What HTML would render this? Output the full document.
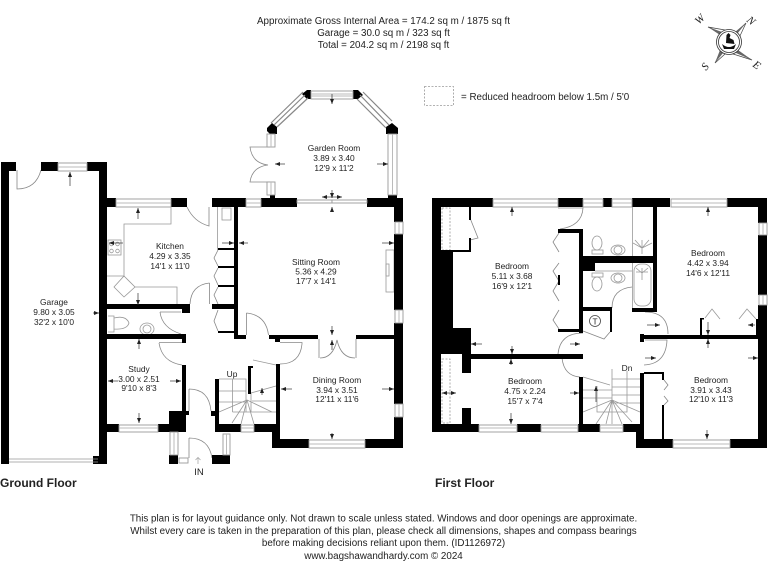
<!DOCTYPE html>
<html><head><meta charset="utf-8"><style>
html,body{margin:0;padding:0;background:#fff;width:768px;height:576px;overflow:hidden}
svg{display:block;filter:blur(.3px)}
text{font-family:"Liberation Sans",Arial,sans-serif;fill:#222}
.l text{font-size:8.4px;text-anchor:middle}
.f text{font-size:9.8px;text-anchor:middle}
.w rect{fill:#fff;stroke:#999;stroke-width:.9}
.w path{stroke:#bbb;stroke-width:1;fill:none}
.t{fill:none;stroke:#999;stroke-width:.8}
.d{fill:none;stroke:#888;stroke-width:.8}
.a{stroke:#333;stroke-width:.7;fill:none;marker-end:url(#m)}
</style></head><body>
<svg width="768" height="576" viewBox="0 0 768 576" xmlns="http://www.w3.org/2000/svg">
<defs><marker id="m" markerWidth="6" markerHeight="4" refX="5" refY="2" orient="auto" markerUnits="userSpaceOnUse"><path d="M0 0L5 2L0 4Z" fill="#222"/></marker></defs>
<rect width="768" height="576" fill="#fff"/>

<g class="f">
<text x="383.500" y="24">Approximate Gross Internal Area = 174.2 sq m / 1875 sq ft</text>
<text x="383.500" y="36">Garage = 30.0 sq m / 323 sq ft</text>
<text x="383.500" y="48">Total = 204.2 sq m / 2198 sq ft</text>
<text x="383.500" y="521.500">This plan is for layout guidance only. Not drawn to scale unless stated. Windows and door openings are approximate.</text>
<text x="383.500" y="534">Whilst every care is taken in the preparation of this plan, please check all dimensions, shapes and compass bearings</text>
<text x="383.500" y="546">before making decisions reliant upon them. (ID1126972)</text>
<text x="383.500" y="559">www.bagshawandhardy.com © 2024</text>
</g>
<rect x="424.500" y="86.500" width="29" height="19" fill="none" stroke="#999" stroke-width=".8" stroke-dasharray="2 1.500"/>
<text x="461" y="100" font-size="9.800">= Reduced headroom below 1.5m / 5'0</text>

<!-- compass -->
<g fill="none" stroke="#444" stroke-width=".7">
<path d="M735 33L746 23L739 38ZM721 33L708 27L725 30ZM721 51L715 63L725 54ZM737 51L752 60L733 54Z" fill="#fff"/>
<path d="M737 34L746 23L735 32ZM722 32L708 27L720 35ZM720 50L715 63L723 53ZM738 50L752 60L736 53Z" fill="#666" stroke="none"/>
</g>
<circle cx="729" cy="42" r="12.500" fill="#fff" stroke="#333" stroke-width=".8"/>
<circle cx="729" cy="42" r="10.500" fill="#fff" stroke="#333" stroke-width=".8"/>
<path d="M722 44q7 6 14 0l-2 5h-10zM726 43l.5-8 2-2 2 2-1 3 4 2 1 4z" fill="#111"/>
<g fill="#444">
<text transform="translate(746,21) rotate(40)" style="font-family:'Liberation Serif',serif;font-size:11px;font-style:italic">N</text>
<text transform="translate(699,25) rotate(-45)" style="font-family:'Liberation Serif',serif;font-size:11px;font-style:italic">W</text>
<text transform="translate(706,71) rotate(-50)" style="font-family:'Liberation Serif',serif;font-size:11px;font-style:italic">S</text>
<text transform="translate(752,66) rotate(35)" style="font-family:'Liberation Serif',serif;font-size:11px;font-style:italic">E</text>
</g>

<!-- fixtures / thin lines -->
<g class="t">
<path d="M171 207V224H124V277M107 276H124M135 287H177V304"/>
<rect x="108" y="240" width="13" height="15"/>
<circle cx="111.500" cy="244" r="1.800"/><circle cx="117.500" cy="244" r="1.800"/><circle cx="111.500" cy="251" r="1.800"/><circle cx="117.500" cy="251" r="1.800"/>
<path d="M124 276L135 287L124 297L114 287Z"/>
<rect x="222" y="208" width="9" height="12"/>
<path d="M217.500 207V250"/>
<path d="M108 316H114V332H108M114 318q12-3 15 5q-2 7-15 6"/>
<ellipse cx="147" cy="329" rx="7" ry="6"/><circle cx="147" cy="329" r="4"/>
<rect x="386" y="250" width="8" height="42"/><rect x="386" y="264" width="3" height="12"/>
<!-- stairs ground -->
<path d="M219 379H246V412M232.500 379V412M219 391H246M219 402H246M232.500 412H262M251 393L276 386M252 401H276M251 393V412M252 412H276M247 400L219 412M247 400L232 423M247 400L241 424M247 400L254 424M247 400L272 412"/>
<path d="M253 360L276 365"/>
<!-- stairs first -->
<path d="M612 369V400M627 371V412H612M612 379H640M612 387H640M612 395H640M612 403H640M583 377L610 385M583 390H612M583 398H612M597 386V412H612M612 400L583 412M612 400L596 424M612 400L606 424M612 400V424M612 400L622 424M612 400L632 422M612 400L640 412"/>
<!-- bath & bathrooms first -->
<path d="M632.500 207V308"/>
<rect x="634" y="264" width="17" height="42" rx="7"/>
<path d="M642 240V254M642 248L635 240M642 248L649 240M642 248L633 243M642 248L652 243M642 268V280M636 272L648 272M636 268L642 273L648 268"/>
<ellipse cx="597" cy="243" rx="5" ry="7"/><rect x="592" y="250" width="11" height="4"/>
<ellipse cx="618" cy="250" rx="7" ry="5"/><circle cx="618" cy="250" r="4"/>
<rect x="592" y="273" width="11" height="4"/><ellipse cx="597" cy="284" rx="5" ry="7"/>
<ellipse cx="618" cy="278" rx="7" ry="5"/><circle cx="618" cy="278" r="4"/>
<path d="M595 271H632"/>
<!-- headroom dashed -->
<rect x="442" y="208" width="8" height="42" stroke-dasharray="2 1.500"/>
<rect x="442" y="359" width="8" height="64" stroke-dasharray="2 1.500"/>
<path d="M705 318L712 309L720 319M739 319L747 309L756 319"/>
</g>

<!-- doors -->
<g class="d">
<path d="M17 170V189Q36 189 41 170"/>
<path d="M187 207Q194 222 209 226V207"/>
<path d="M209.500 283V304M209.500 283Q191 285 190 304"/>
<path d="M160 312H181M160 312Q162 328 181 334"/>
<path d="M159 342.500H182M159 343Q162 362 182 365"/>
<path d="M189 389V411M189 389Q209 389 211 411"/>
<path d="M189 438V458M189 438Q209 438 212 458"/>
<path d="M246.500 313V335M246.500 313Q266 315 268.500 335"/>
<path d="M280 342.500H302V344Q300 364 280 364"/>
<path d="M319 339V358M320 358Q333 358 337 340Q341 358 355 358M356 339V358"/>
<!-- garden room doors -->
<path d="M270 147H250Q252 163 268 165Q252 167 250 182H270"/>
<!-- hall cupboards -->
<path d="M218 250L214 258L218 266M218 268L214 276L218 285M218 287L214 295L218 304M218 310L214 321L218 331"/>
<!-- first floor -->
<path d="M470 218L478 238L470 240"/>
<path d="M559 233L553 242L559 252M559 263L553 271L559 281M559 281L553 291L559 301M559 310L553 320L559 329"/>
<path d="M558 208H583Q582 226 560 229"/>
<path d="M632 287Q612 289 612 308"/>
<path d="M583 331L604 339L610 332"/>
<path d="M583 333Q560 333 558 354"/>
<path d="M562 358Q564 376 580 377"/>
<path d="M645 312Q668 312 668 334"/>
<path d="M645 340H667Q666 364 644 365"/>
<path d="M664 380L668 385L664 390M664 396L668 401L664 405"/>
</g>
<circle cx="595" cy="321" r="5.500" fill="none" stroke="#444" stroke-width=".8"/>
<text x="595" y="324.500" font-size="8.300" text-anchor="middle">T</text>

<!-- walls -->
<g fill="#000">
<rect x="1" y="162" width="8" height="302"/><rect x="1" y="162" width="15" height="9"/>
<rect x="41" y="162" width="17" height="9"/><rect x="87" y="162" width="20" height="9"/>
<rect x="99" y="162" width="8" height="302"/><rect x="93" y="456" width="14" height="8"/>
<rect x="99" y="198" width="17" height="9"/><rect x="171" y="198" width="16" height="9"/>
<rect x="212" y="198" width="34" height="9"/>
<rect x="261" y="198" width="36" height="9"/>
<rect x="367" y="198" width="36" height="9"/>
<rect x="234" y="207" width="4" height="132"/>
<rect x="107" y="304" width="83" height="5"/><rect x="182" y="304" width="8" height="9"/>
<rect x="212" y="304" width="26" height="5"/><rect x="218" y="248" width="16" height="2"/><rect x="218" y="266" width="16" height="2"/><rect x="218" y="285" width="16" height="2"/><rect x="218" y="331" width="16" height="2"/>
<rect x="107" y="334" width="79" height="5"/><rect x="182" y="334" width="4" height="9"/>
<rect x="182" y="365" width="4" height="46"/><rect x="169" y="411" width="17" height="21"/><rect x="186" y="411" width="3" height="4"/>
<rect x="107" y="424" width="12" height="8"/><rect x="158" y="424" width="28" height="8"/>
<rect x="169" y="455" width="9" height="9"/><rect x="212" y="455" width="18" height="9"/><rect x="211" y="411" width="4" height="5"/>
<rect x="215" y="379" width="4" height="53"/><rect x="215" y="424" width="26" height="8"/><rect x="254" y="424" width="22" height="8"/>
<rect x="248" y="366" width="3" height="28"/><rect x="248" y="366" width="5" height="2"/>
<rect x="272" y="424" width="8" height="24"/><rect x="276" y="364" width="4" height="84"/>
<rect x="272" y="439" width="37" height="9"/><rect x="365" y="439" width="38" height="9"/>
<rect x="394" y="198" width="9" height="24"/><rect x="394" y="234" width="9" height="76"/><rect x="394" y="323" width="9" height="81"/><rect x="394" y="417" width="9" height="31"/>
<rect x="234" y="335" width="12" height="4"/><rect x="269" y="335" width="49" height="4"/><rect x="275" y="339" width="5" height="3"/><rect x="356" y="335" width="38" height="4"/>
<path d="M302 94L307 90H311V99H307ZM353 90H358L363 95L358 99H353ZM267 128L272 123L277 127V134L270 134L267 131ZM386 127L392 123L398 128V134H386ZM270 194H275V198H270Z"/>
<rect x="388" y="195" width="9" height="3"/>
<rect x="432" y="198" width="61" height="9"/><rect x="432" y="198" width="9" height="234"/>
<rect x="558" y="198" width="25" height="9"/><rect x="603" y="198" width="9" height="9"/><rect x="632" y="198" width="38" height="9"/><rect x="727" y="198" width="40" height="9"/>
<rect x="758" y="198" width="9" height="25"/><rect x="758" y="235" width="9" height="60"/><rect x="758" y="305" width="9" height="143"/>
<rect x="469" y="207" width="2" height="13"/><rect x="469" y="238" width="2" height="14"/><rect x="441" y="250" width="30" height="2"/>
<rect x="432" y="252" width="21" height="76"/><rect x="432" y="328" width="39" height="26"/>
<rect x="471" y="354" width="112" height="5"/><rect x="462" y="354" width="9" height="19"/><rect x="462" y="408" width="9" height="24"/>
<rect x="432" y="424" width="47" height="8"/><rect x="517" y="424" width="24" height="8"/><rect x="578" y="424" width="22" height="8"/><rect x="579" y="377" width="4" height="55"/>
<rect x="623" y="424" width="21" height="8"/><rect x="640" y="373" width="4" height="75"/><rect x="636" y="432" width="8" height="16"/>
<rect x="636" y="439" width="37" height="9"/><rect x="730" y="439" width="37" height="9"/>
<rect x="640" y="335" width="118" height="4"/><rect x="640" y="334" width="4" height="8"/>
<rect x="644" y="372" width="20" height="2"/><rect x="662" y="372" width="2" height="8"/><rect x="662" y="405" width="2" height="34"/>
<rect x="653" y="207" width="4" height="105"/><rect x="632" y="308" width="25" height="4"/>
<rect x="579" y="256" width="78" height="7"/><rect x="582" y="263" width="13" height="8"/>
<rect x="579" y="229" width="4" height="104"/><rect x="558" y="229" width="25" height="4"/><rect x="558" y="329" width="25" height="3"/>
<rect x="583" y="307" width="29" height="4"/><rect x="610" y="311" width="2" height="21"/>
<rect x="558" y="275" width="2" height="10"/>
<rect x="700" y="318" width="4" height="1.500"/><rect x="700" y="318" width="2" height="17"/><rect x="756" y="319" width="2" height="16"/>
</g>

<!-- windows -->
<g class="w">
<rect x="58" y="163" width="29" height="8"/><path d="M58 167H87"/>
<rect x="116" y="199" width="55" height="8"/><path d="M116 203H171"/>
<rect x="119" y="425" width="39" height="7"/><path d="M119 428H158"/>
<rect x="170" y="432" width="8" height="23"/><path d="M174 432V455"/>
<rect x="223" y="434" width="7" height="21"/><path d="M226.500 434V455"/>
<rect x="179" y="458" width="9" height="5"/>
<rect x="241" y="425" width="13" height="7"/><path d="M241 428H254"/>
<rect x="309" y="440" width="56" height="8"/><path d="M309 444H365"/>
<rect x="246" y="199" width="15" height="8"/><path d="M246 203H261"/>
<rect x="297" y="200" width="35" height="3"/><rect x="332" y="200" width="35" height="3"/>
<rect x="395" y="222" width="8" height="12"/><path d="M399 222V234"/>
<rect x="395" y="310" width="8" height="13"/><path d="M399 310V323"/>
<rect x="395" y="404" width="8" height="13"/><path d="M399 404V417"/>
<rect x="311" y="91" width="42" height="8"/><path d="M311 94H353M311 96H353"/>
<path d="M303 92L271 123M308 98L277 127M305 95L274 125" style="stroke:#888;stroke-width:1.200"/>
<path d="M363 92L392 121M357 99L386 128M360 95L389 125" style="stroke:#888;stroke-width:1.200"/>
<rect x="388" y="134" width="9" height="61"/><path d="M392.500 134V195"/>
<rect x="267" y="134" width="8" height="13"/><path d="M271 134V147"/>
<rect x="267" y="182" width="8" height="13"/><path d="M271 182V195"/>
<rect x="493" y="199" width="65" height="8"/><path d="M493 203H558"/>
<rect x="583" y="199" width="20" height="8"/><path d="M583 203H603"/>
<rect x="612" y="199" width="20" height="8"/><path d="M612 203H632"/>
<rect x="671" y="199" width="56" height="8"/><path d="M671 203H727"/>
<rect x="759" y="223" width="8" height="12"/><path d="M763 223V235"/>
<rect x="759" y="295" width="8" height="10"/><path d="M763 295V305"/>
<rect x="479" y="425" width="38" height="7"/><path d="M479 428H517"/>
<rect x="541" y="425" width="37" height="7"/><path d="M541 428H578"/>
<rect x="600" y="425" width="23" height="7"/><path d="M600 428H623"/>
<rect x="673" y="440" width="57" height="8"/><path d="M673 444H730"/>
</g>
<path d="M9 459H98M9 462H98" stroke="#999" stroke-width=".8" fill="none"/>

<!-- arrows -->
<g class="a">
<path d="M70 186V172"/><path d="M138 219V208"/><path d="M138 293V305"/>
<path d="M93 313L99 313"/><path d="M123 243L109 243"/>
<path d="M222 243H234"/><path d="M248 243H239"/>
<path d="M139 349V339"/><path d="M139 413V423"/><path d="M118 381H108"/><path d="M170 381H181"/>
<path d="M262 395V388"/><path d="M332 94V104"/><path d="M285 164H275"/><path d="M377 164H388"/>
<path d="M332 197H322"/><path d="M332 197H342"/><path d="M332 190V198"/><path d="M332 212V207"/>
<path d="M382 243H394"/>
<path d="M332 326V335"/><path d="M332 350V340"/><path d="M292 389H281"/><path d="M382 389H394"/><path d="M332 433V439"/>
<path d="M512 216V207"/><path d="M482 344H471"/><path d="M570 344H580"/><path d="M512 346V354"/>
<path d="M511 365V359"/><path d="M511 413V424"/><path d="M449 393H442"/><path d="M449 393H456"/><path d="M570 393H579"/>
<path d="M708 216V207"/><path d="M647 325H660"/><path d="M755 325H748"/><path d="M708 322V335"/><path d="M708 348V339"/>
<path d="M645 358H656"/><path d="M748 358H758"/><path d="M707 430V439"/>
<path d="M596 402V386"/>
</g>

<!-- labels -->
<g class="l">
<text x="54" y="305">Garage</text><text x="54" y="315">9.80 x 3.05</text><text x="54" y="325">32'2 x 10'0</text>
<text x="170" y="249">Kitchen</text><text x="170" y="259">4.29 x 3.35</text><text x="170" y="269">14'1 x 11'0</text>
<text x="139" y="372">Study</text><text x="139" y="382">3.00 x 2.51</text><text x="139" y="391">9'10 x 8'3</text>
<text x="334" y="151">Garden Room</text><text x="334" y="161">3.89 x 3.40</text><text x="334" y="171">12'9 x 11'2</text>
<text x="316" y="265">Sitting Room</text><text x="316" y="274.500">5.36 x 4.29</text><text x="316" y="284">17'7 x 14'1</text>
<text x="337" y="383">Dining Room</text><text x="337" y="393">3.94 x 3.51</text><text x="337" y="402">12'11 x 11'6</text>
<text x="512" y="269">Bedroom</text><text x="512" y="279">5.11 x 3.68</text><text x="512" y="289">16'9 x 12'1</text>
<text x="708" y="256">Bedroom</text><text x="708" y="266">4.42 x 3.94</text><text x="708" y="276">14'6 x 12'11</text>
<text x="525" y="384">Bedroom</text><text x="525" y="394">4.75 x 2.24</text><text x="525" y="404">15'7 x 7'4</text>
<text x="711" y="383">Bedroom</text><text x="711" y="393">3.91 x 3.43</text><text x="711" y="402">12'10 x 11'3</text>
<text x="232" y="377">Up</text><text x="627" y="371">Dn</text>
<text x="199" y="475" style="font-size:9.500px">IN</text>
</g>
<path d="M198 464V458M195.500 460L198 457.500L200.500 460" stroke="#aaa" stroke-width=".8" fill="none"/>
<text x="0" y="487" font-size="12" font-weight="bold">Ground Floor</text>
<text x="435" y="487" font-size="12" font-weight="bold">First Floor</text>
</svg>
</body></html>
